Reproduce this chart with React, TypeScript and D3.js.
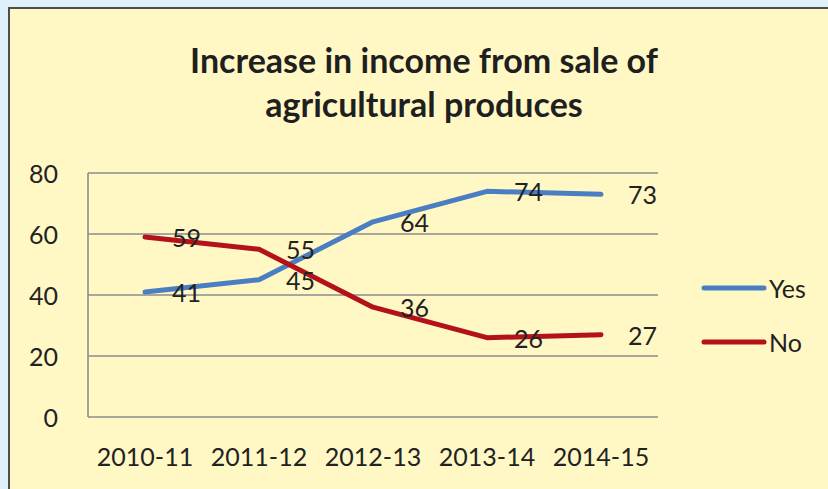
import React from "react";
import * as d3 from "d3";

const categories = ["2010-11", "2011-12", "2012-13", "2013-14", "2014-15"];
const yesValues = [41, 45, 64, 74, 73];
const noValues = [59, 55, 36, 26, 27];
const yTicks = [0, 20, 40, 60, 80];
const seriesNames = ["Yes", "No"];
const seriesColors = ["#4A7EC2", "#B3121B"];

const W = 828;
const H = 489;
const FONT = "Lato, 'Open Sans', sans-serif";

export default function App() {
  const x = d3.scaleBand<string>().domain(categories).range([88, 658]);
  const y = d3.scaleLinear().domain([0, 80]).range([417, 173]);
  const cx = (c: string) => (x(c) as number) + x.bandwidth() / 2;
  const line = d3
    .line<number>()
    .x((_, i) => cx(categories[i]))
    .y((d) => y(d));
  const series = [yesValues, noValues];

  return (
    <svg
      width={W}
      height={H}
      style={{ position: "absolute", left: 0, top: 0 }}
      xmlns="http://www.w3.org/2000/svg"
    >
      <rect x={0} y={0} width={W} height={H} fill="#DDF0FC" />
      <rect x={9} y={8} width={W + 20} height={H + 20} fill="#FFF8C5" stroke="#4D4D4D" strokeWidth={2} />
      <text x={424} y={73} textAnchor="middle" fontFamily={FONT} fontWeight="bold" fontSize={34} fill="#1F1F1F">
        Increase in income from sale of
      </text>
      <text x={424} y={117} textAnchor="middle" fontFamily={FONT} fontWeight="bold" fontSize={34} fill="#1F1F1F">
        agricultural produces
      </text>
      {yTicks.map((t) => (
        <g key={t}>
          <line x1={88} x2={658} y1={y(t)} y2={y(t)} stroke="#8C8C8C" strokeWidth={1.6} />
          <text x={58} y={y(t)} textAnchor="end" dominantBaseline="central" fontFamily={FONT} fontSize={25} fill="#222">
            {t}
          </text>
        </g>
      ))}
      <line x1={88} x2={88} y1={y(80)} y2={y(0)} stroke="#8C8C8C" strokeWidth={1.6} />
      {categories.map((c) => (
        <text key={c} x={cx(c)} y={456} textAnchor="middle" dominantBaseline="central" fontFamily={FONT} fontSize={25} fill="#222">
          {c}
        </text>
      ))}
      {series.map((s, si) => (
        <path
          key={si}
          d={line(s) as string}
          fill="none"
          stroke={seriesColors[si]}
          strokeWidth={5}
          strokeLinecap="round"
          strokeLinejoin="round"
        />
      ))}
      {series.map((s, si) =>
        s.map((v, i) => (
          <text
            key={si + "-" + i}
            x={cx(categories[i]) + 27}
            y={y(v)}
            dominantBaseline="central"
            fontFamily={FONT}
            fontSize={25}
            fill="#222"
          >
            {v}
          </text>
        ))
      )}
      {seriesNames.map((n, i) => (
        <g key={n}>
          <line x1={704} x2={764} y1={288 + i * 54} y2={288 + i * 54} stroke={seriesColors[i]} strokeWidth={5} strokeLinecap="round" />
          <text x={769} y={288 + i * 54} dominantBaseline="central" fontFamily={FONT} fontSize={25} fill="#222">
            {n}
          </text>
        </g>
      ))}
    </svg>
  );
}
